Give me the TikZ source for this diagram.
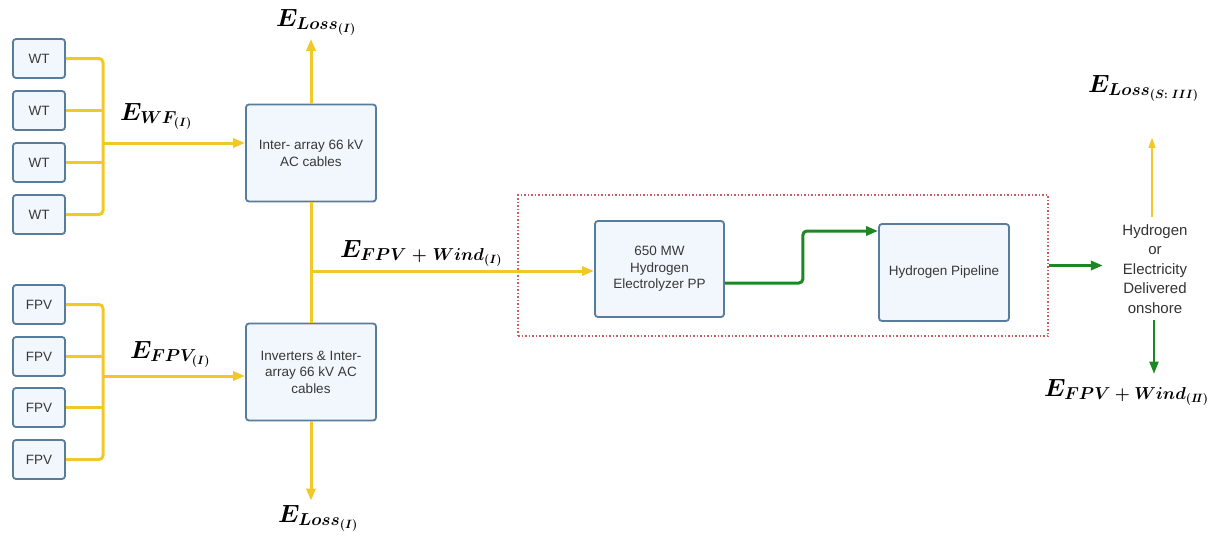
\documentclass[tikz,border=0pt]{standalone}
\usepackage{fontspec}
\setmainfont{Liberation Sans}
\usepackage{amsmath}
\usetikzlibrary{arrows.meta,positioning}
\definecolor{cable}{RGB}{242,200,40}
\definecolor{hgreen}{RGB}{28,135,35}
\definecolor{boxfill}{RGB}{241,247,253}
\definecolor{boxline}{RGB}{88,124,156}
\definecolor{framered}{RGB}{200,95,95}

\begin{document}
\begin{tikzpicture}[x=1pt, y=-1pt,
    unit/.style={draw=boxline, line width=1.8pt, fill=boxfill, rounded corners=3pt,
        minimum width=52pt, minimum height=39pt, text=black!78,
        font=\fontsize{13.5}{16.5}\selectfont},
    stage/.style={unit, minimum width=130pt, minimum height=97pt, align=center},
    power/.style={cable, line width=3pt},
    feed/.style={power, -{Triangle[length=12pt, width=9pt]}},
    gas/.style={hgreen, line width=3pt, -{Triangle[length=12pt, width=9pt]}},
    energy/.style={inner sep=0pt, font=\fontsize{23}{27}\selectfont\boldmath}]
    \useasboundingbox (0,0) rectangle (1211,538);

    % Wind turbines
    \node[unit] (wt1) at (39,58.5) {WT};
    \node[unit] (wt2) at (39,110.5) {WT};
    \node[unit] (wt3) at (39,162.5) {WT};
    \node[unit] (wt4) at (39,214.5) {WT};

    % Floating PV
    \node[unit] (fpv1) at (39,304.5) {FPV};
    \node[unit] (fpv2) at (39,356.5) {FPV};
    \node[unit] (fpv3) at (39,407.5) {FPV};
    \node[unit] (fpv4) at (39,459.5) {FPV};

    % Cable stages
    \node[stage] (windcables) at (311,153) {Inter- array 66 kV\\AC cables};
    \node[stage] (pvcables) at (311,372) {Inverters \& Inter-\\array 66 kV AC\\cables};

    % Hydrogen plant
    \node[stage, minimum width=129pt, minimum height=96pt] (electrolyzer) at (659.5,269) {650 MW\\Hydrogen\\Electrolyzer PP};
    \node[stage] (pipeline) at (944,272.5) {Hydrogen Pipeline};
    \node[draw=framered, dotted, line width=1.5pt, minimum width=530pt, minimum height=141pt] (plant) at (783,265.5) {};

    \node[align=center, font=\fontsize{15}{19.5}\selectfont, text=black!80] (onshore) at (1155,269) {Hydrogen\\or\\Electricity\\Delivered\\onshore};

    % Energy labels
    \node[energy, anchor=base west] (ewf) at (120,120) {$E_{WF_{(I)}}$};
    \node[energy, anchor=base west] (efpv) at (130,358) {$E_{FPV_{(I)}}$};
    \node[energy, anchor=base west] (ewind) at (340,257) {$E_{FPV\;+\;Wind_{(I)}}$};
    \node[energy, anchor=base west] (losstop) at (276,26) {$E_{Loss_{(I)}}$};
    \node[energy, anchor=base west] (lossbot) at (278,522) {$E_{Loss_{(I)}}$};
    \node[energy, anchor=base west] (losshyd) at (1088,92) {$E_{Loss_{(S{:}\;III)}}$};
    \node[energy, anchor=base west] (ewindii) at (1044,396) {$E_{FPV\:+\:Wind_{(I\!I)}}$};

    \coordinate (wtbus) at (103,143);
    \coordinate (pvbus) at (103,376);
    \coordinate (junction) at (311,271);

    % Yellow cables
    \draw[power, rounded corners=4pt] (wt1.east) -| (wtbus) |- (wt4.east);
    \draw[power] (wt2.east) -- (wt2.east -| wtbus);
    \draw[power] (wt3.east) -- (wt3.east -| wtbus);
    \draw[feed] (wtbus) -- (wtbus -| windcables.west);
    \draw[power, rounded corners=4pt] (fpv1.east) -| (pvbus) |- (fpv4.east);
    \draw[power] (fpv2.east) -- (fpv2.east -| pvbus);
    \draw[power] (fpv3.east) -- (fpv3.east -| pvbus);
    \draw[feed] (pvbus) -- (pvbus -| pvcables.west);
    \draw[power] (windcables.south) -- (pvcables.north);
    \draw[feed] (junction) -- (junction -| electrolyzer.west);
    \draw[feed, shorten >=3pt] (windcables.north) -- (windcables.north |- losstop.south);
    \draw[feed, shorten >=4pt] (pvcables.south) -- (pvcables.south |- lossbot.north);

    % Green flows
    \draw[gas, rounded corners=4pt] ([yshift=-14pt]electrolyzer.east) -- ++(78,0) |- ([yshift=41.5pt]pipeline.west);
    \draw[gas, shorten >=16pt] (plant.east) -- (plant.east -| onshore.west);
    \draw[cable, line width=1.3pt, -{Triangle[length=10pt, width=7pt]}, shorten <=4pt, shorten >=36pt] ([xshift=-3pt]onshore.north) -- ([xshift=-3pt]onshore.north |- losshyd.south);
    \draw[gas, line width=2pt, shorten <=3pt, shorten >=5pt] ([xshift=-1pt]onshore.south) -- ([xshift=-1pt]onshore.south |- ewindii.north);
\end{tikzpicture}
\end{document}
